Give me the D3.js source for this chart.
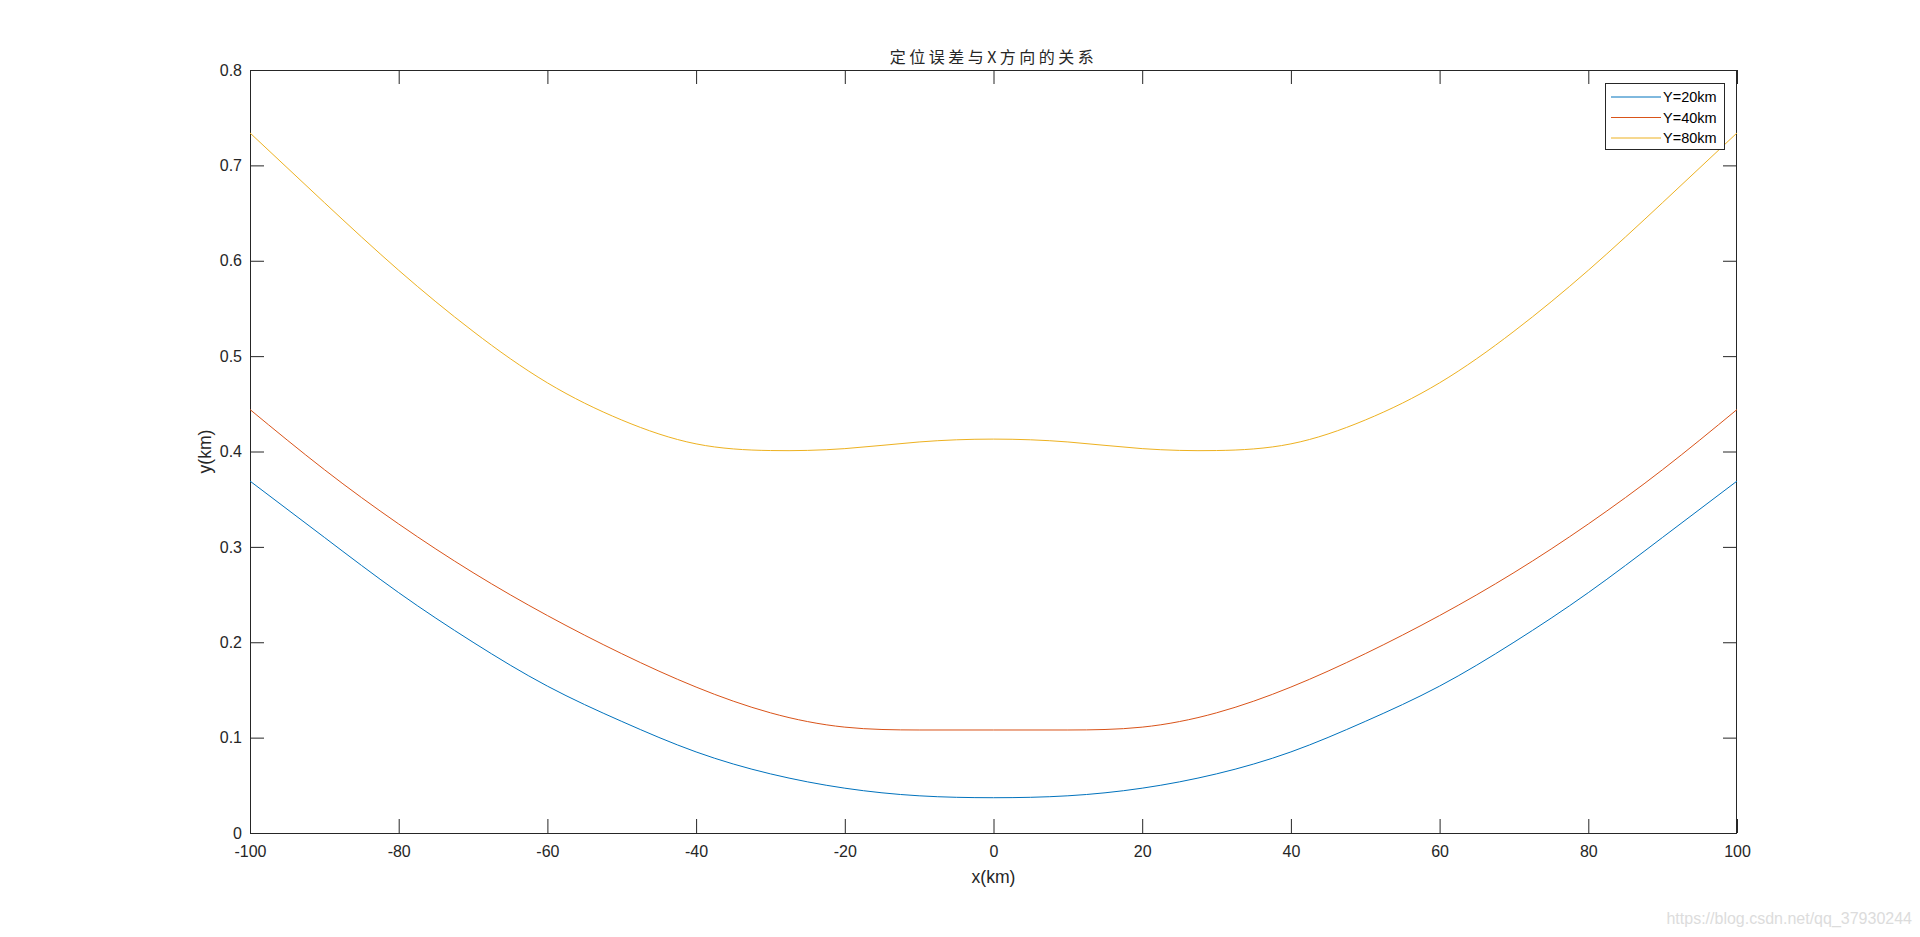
<!DOCTYPE html>
<html>
<head>
<meta charset="utf-8">
<script src="https://cdn.jsdelivr.net/npm/d3@7"></script>
<style>
html,body{margin:0;padding:0;background:#fff;}
svg{display:block;}
</style>
</head>
<body>
<svg id="chart" width="1920" height="937"></svg>
<script>
// ---- data ----
const xValues = [-100,-90,-80,-70,-60,-50,-40,-30,-20,-10,0,10,20,30,40,50,60,70,80,90,100];
const seriesNames = ["Y=20km","Y=40km","Y=80km"];
const y20 = [0.369,0.310,0.252,0.200,0.154,0.117,0.085,0.062,0.047,0.039,0.037,0.039,0.047,0.062,0.085,0.117,0.154,0.200,0.252,0.310,0.369];
const y40 = [0.444,0.381,0.324,0.273,0.228,0.188,0.153,0.126,0.111,0.108,0.108,0.108,0.111,0.126,0.153,0.188,0.228,0.273,0.324,0.381,0.444];
const y80 = [0.734,0.661,0.590,0.526,0.472,0.433,0.408,0.401,0.403,0.410,0.413,0.410,0.403,0.401,0.408,0.433,0.472,0.526,0.590,0.661,0.734];
const xTicks = [-100,-80,-60,-40,-20,0,20,40,60,80,100];
const yTicks = [0,0.1,0.2,0.3,0.4,0.5,0.6,0.7,0.8];
const colors = ["#0072BD","#D95319","#EDB120"];
const titleText = "定位误差与X方向的关系";
const xLabel = "x(km)";
const yLabel = "y(km)";
const watermark = "https://blog.csdn.net/qq_37930244";

// ---- layout ----
const L = 250, R = 1737, T = 70, B = 833;
const axisColor = "#262626";
const svg = d3.select("#chart");

const x = d3.scaleLinear().domain([-100,100]).range([L,R]);
const y = d3.scaleLinear().domain([0,0.8]).range([B,T]);

const fontSans = "'Liberation Sans', Arial, Helvetica, sans-serif";

// axes
const gx = svg.append("g").attr("transform",`translate(0,${B})`)
  .call(d3.axisBottom(x).tickValues(xTicks).tickSize(-14).tickSizeOuter(0).tickPadding(13).tickFormat(d => String(d)));
const gxt = svg.append("g").attr("transform",`translate(0,${T})`)
  .call(d3.axisTop(x).tickValues(xTicks).tickSize(-14).tickSizeOuter(0).tickFormat(""));
const gy = svg.append("g").attr("transform",`translate(${L},0)`)
  .call(d3.axisLeft(y).tickValues(yTicks).tickSize(-14).tickSizeOuter(0).tickPadding(8).tickFormat(d => d === 0 ? "0" : d.toFixed(1)));
const gyr = svg.append("g").attr("transform",`translate(${R},0)`)
  .call(d3.axisRight(y).tickValues(yTicks).tickSize(-14).tickSizeOuter(0).tickFormat(""));

[gx,gxt,gy,gyr].forEach(g => {
  g.select(".domain").remove();
  g.selectAll(".tick line").attr("stroke",axisColor).attr("stroke-width",1);
  g.selectAll(".tick text").attr("fill",axisColor).style("font-family",fontSans).style("font-size","16px");
});

// box
svg.append("rect").attr("x",L+0.5).attr("y",T+0.5).attr("width",R-L-1).attr("height",B-T)
  .attr("fill","none").attr("stroke",axisColor).attr("stroke-width",1);

// lines
const allSeries = [y20,y40,y80];
const line = d3.line().x((d,i)=>x(xValues[i])).y(d=>y(d)).curve(d3.curveNatural);
allSeries.forEach((s,i) => {
  svg.append("path").datum(s).attr("d",line).attr("fill","none")
    .attr("stroke",colors[i]).attr("stroke-width",1);
});

// title
svg.append("text").attr("x",(L+R)/2).attr("y",63).attr("text-anchor","middle")
  .style("font-family","'Noto Sans CJK SC', sans-serif").style("font-size","16px")
  .style("letter-spacing","3.5px")
  .attr("fill",axisColor).text(titleText);

// axis labels
svg.append("text").attr("x",(L+R)/2).attr("y",883).attr("text-anchor","middle")
  .style("font-family",fontSans).style("font-size","17.6px").attr("fill",axisColor).text(xLabel);
svg.append("text").attr("transform",`translate(211,${(T+B)/2}) rotate(-90)`).attr("text-anchor","middle")
  .style("font-family",fontSans).style("font-size","17.6px").attr("fill",axisColor).text(yLabel);

// legend
const lg = svg.append("g");
lg.append("rect").attr("x",1605.5).attr("y",83.5).attr("width",119).attr("height",66)
  .attr("fill","#fff").attr("stroke",axisColor).attr("stroke-width",1);
seriesNames.forEach((n,i) => {
  const cy = 97 + i*20.5;
  lg.append("line").attr("x1",1611).attr("x2",1661).attr("y1",cy).attr("y2",cy)
    .attr("stroke",colors[i]).attr("stroke-width",1);
  lg.append("text").attr("x",1663).attr("y",cy).attr("dy","0.35em")
    .style("font-family",fontSans).style("font-size","14.5px").attr("fill","#000").text(n);
});

// watermark
svg.append("text").attr("x",1912).attr("y",924).attr("text-anchor","end")
  .style("font-family",fontSans).style("font-size","16px").attr("fill","#dcdcdc").text(watermark);
</script>
</body>
</html>
